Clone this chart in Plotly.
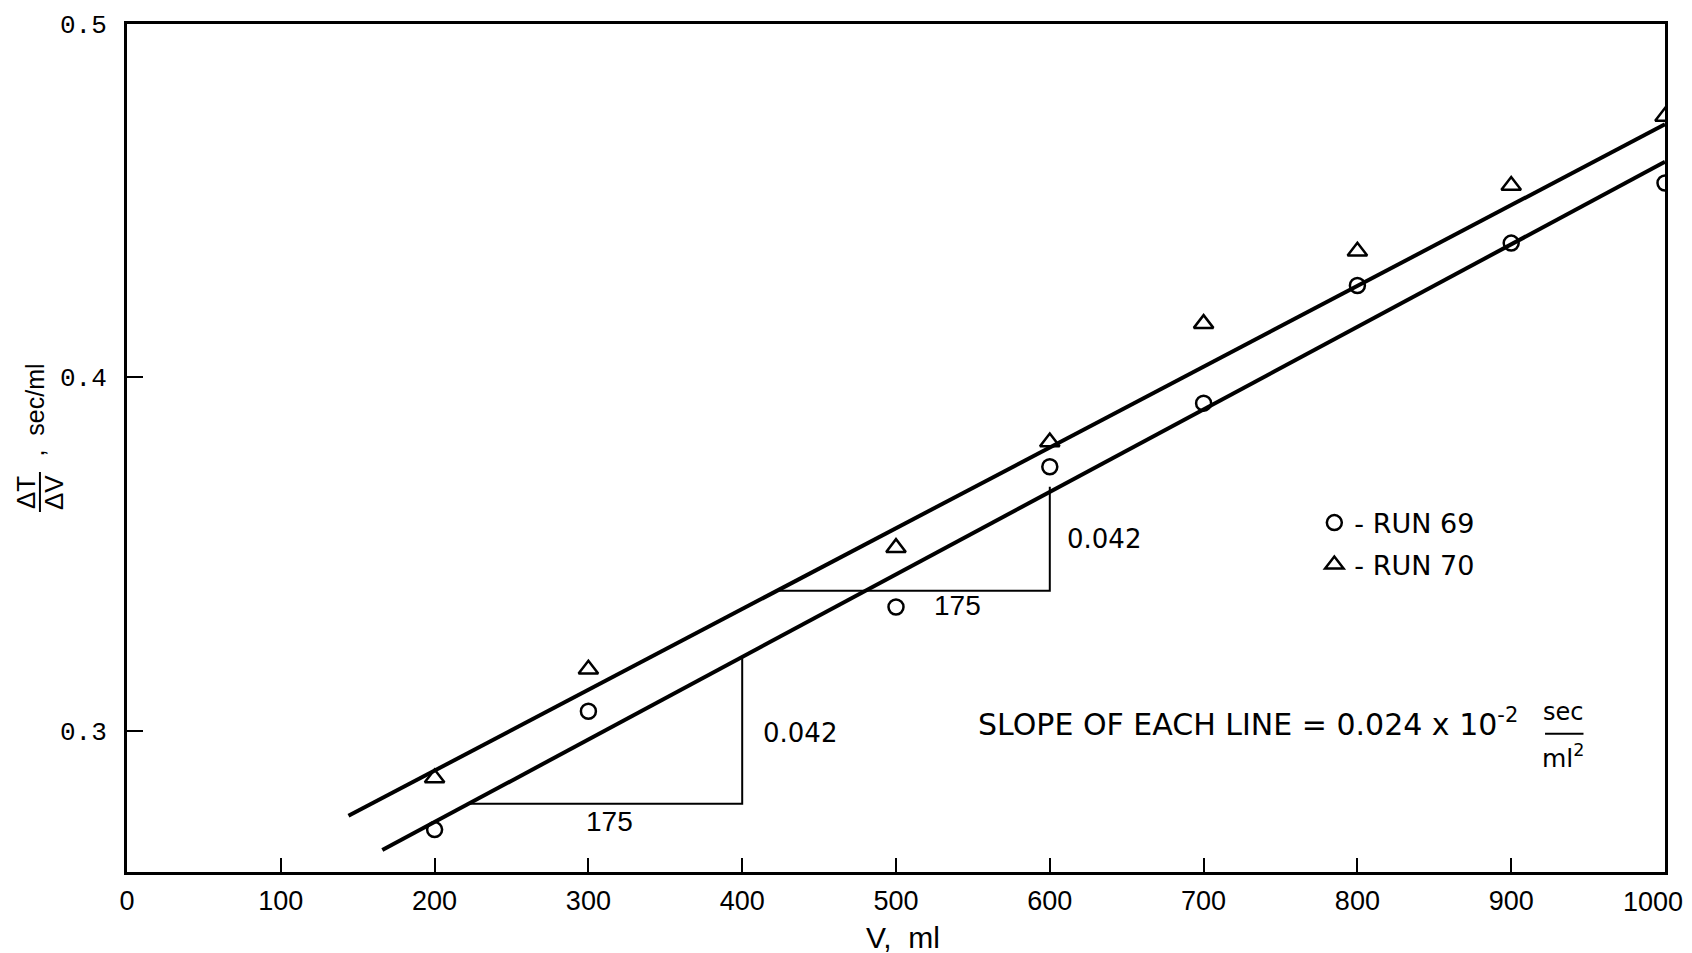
import plotly.graph_objects as go

# ---- data ----
volume_ml = [200, 300, 500, 600, 700, 800, 900, 1000]
run69 = [0.272, 0.3055, 0.335, 0.3747, 0.3927, 0.426, 0.438, 0.455]
run70 = [0.2866, 0.3174, 0.3518, 0.3817, 0.4152, 0.4357, 0.4543, 0.4738]

fit69_x = [166, 1000]
fit69_y = [0.2662, 0.461]
fit70_x = [144, 1000]
fit70_y = [0.2759, 0.4716]

# slope triangles (horizontal run 175, vertical rise 0.042)
tri1_x = [222, 400, 400]
tri1_y = [0.2793, 0.2793, 0.3209]
tri2_x = [424, 600, 600]
tri2_y = [0.3396, 0.3396, 0.3690]

x_ticks = [0, 100, 200, 300, 400, 500, 600, 700, 800, 900, 1000]
x_tick_text = ["0", "100", "200", "300", "400", "500", "600", "700", "800", "900", ""]
last_x_tick_label = "1000"
y_ticks = [0.3, 0.4, 0.5]
y_tick_text = ["0.3", "0.4", "0.5"]

fig = go.Figure()

fig.add_trace(go.Scatter(x=fit70_x, y=fit70_y, mode="lines",
                         line=dict(color="black", width=4), showlegend=False, hoverinfo="skip"))
fig.add_trace(go.Scatter(x=fit69_x, y=fit69_y, mode="lines",
                         line=dict(color="black", width=4), showlegend=False, hoverinfo="skip"))
for tx, ty in [(tri1_x, tri1_y), (tri2_x, tri2_y)]:
    fig.add_trace(go.Scatter(x=tx, y=ty, mode="lines",
                             line=dict(color="black", width=2), showlegend=False, hoverinfo="skip"))

fig.add_trace(go.Scatter(x=volume_ml, y=run69, mode="markers", name="- RUN 69",
                         marker=dict(symbol="circle-open", size=15, color="black",
                                     line=dict(width=2.5, color="black")),
                         legend="legend"))
fig.add_trace(go.Scatter(x=volume_ml, y=run70, mode="markers", name="- RUN 70",
                         marker=dict(symbol="triangle-up-open", size=17, color="black",
                                     line=dict(width=2.5, color="black")),
                         legend="legend2"))

lib = dict(family="Liberation Sans, Arial, sans-serif", color="black")
dej = dict(family="DejaVu Sans, Verdana, sans-serif", color="black")

annotations = [
    # last x tick label, nudged left to stay inside the page as in the reference
    dict(x=x_ticks[-1], xref="x", yref="paper", y=0, yanchor="top", yshift=-13, xshift=-12,
         text=last_x_tick_label, showarrow=False, font=dict(size=27, **lib)),
    # slope labels
    dict(x=314, y=0.2744, text="175", showarrow=False, font=dict(size=28, **lib)),
    dict(x=412, y=0.2994, text="0.042", showarrow=False, xanchor="left", font=dict(size=26, **dej)),
    dict(x=540, y=0.3355, text="175", showarrow=False, font=dict(size=28, **lib)),
    dict(x=610, y=0.3543, text="0.042", showarrow=False, xanchor="left", font=dict(size=26, **dej)),
    # slope statement
    dict(x=552, y=0.3024, text="SLOPE OF EACH LINE = 0.024 x 10<sup>-2</sup>", showarrow=False,
         xanchor="left", font=dict(size=30, **dej)),
    dict(x=934, y=0.3052, text="sec", showarrow=False, font=dict(size=24, **dej)),
    dict(x=934, y=0.2928, text="ml<sup>2</sup>", showarrow=False, font=dict(size=25, **dej)),
    # x-axis title
    dict(xref="paper", yref="paper", x=0.5046, y=-0.0767, text="V,  ml", showarrow=False,
         xanchor="center", yanchor="middle", font=dict(size=30, **lib)),
    # y-axis title (fraction, rotated)
    dict(xref="paper", yref="paper", x=-0.0657, y=0.448, text="ΔT", textangle=-90,
         xanchor="center", yanchor="middle", showarrow=False, font=dict(size=26, **lib)),
    dict(xref="paper", yref="paper", x=-0.0475, y=0.448, text="ΔV", textangle=-90,
         xanchor="center", yanchor="middle", showarrow=False, font=dict(size=26, **lib)),
    dict(xref="paper", yref="paper", x=-0.0600, y=0.545, text=",  sec/ml", textangle=-90,
         xanchor="center", yanchor="middle", showarrow=False, font=dict(size=25, **lib)),
]

shapes = [
    dict(type="line", xref="x", yref="y", x0=922, x1=947, y0=0.2991, y1=0.2991,
         line=dict(color="black", width=2)),
    dict(type="line", xref="paper", yref="paper", x0=-0.0566, x1=-0.0566, y0=0.4245, y1=0.4717,
         line=dict(color="black", width=2)),
]

fig.update_layout(
    width=1692, height=953,
    margin=dict(l=127, r=27, t=24, b=81, autoexpand=False),
    paper_bgcolor="white", plot_bgcolor="white",
    annotations=annotations, shapes=shapes,
    legend=dict(x=0.772, y=0.4115, xanchor="left", yanchor="middle",
                font=dict(size=27, **dej), bgcolor="rgba(0,0,0,0)", itemwidth=30),
    legend2=dict(x=0.772, y=0.362, xanchor="left", yanchor="middle",
                 font=dict(size=27, **dej), bgcolor="rgba(0,0,0,0)", itemwidth=30),
)

fig.update_xaxes(range=[0, 1000], tickvals=x_ticks, ticktext=x_tick_text,
                 ticks="inside", ticklen=14, tickwidth=2, tickcolor="black",
                 showline=True, linecolor="black", linewidth=3, mirror=True,
                 showgrid=False, zeroline=False, ticklabelstandoff=3,
                 automargin=False,
                 tickfont=dict(size=27, **lib))
fig.update_yaxes(range=[0.26, 0.5], tickvals=y_ticks, ticktext=y_tick_text,
                 ticks="inside", ticklen=16, tickwidth=2, tickcolor="black",
                 showline=True, linecolor="black", linewidth=3, mirror=True,
                 showgrid=False, zeroline=False, ticklabelstandoff=12,
                 automargin=False,
                 tickfont=dict(size=26, family="Liberation Mono, Courier New, monospace",
                               color="black"))

fig.write_html("out.html")
